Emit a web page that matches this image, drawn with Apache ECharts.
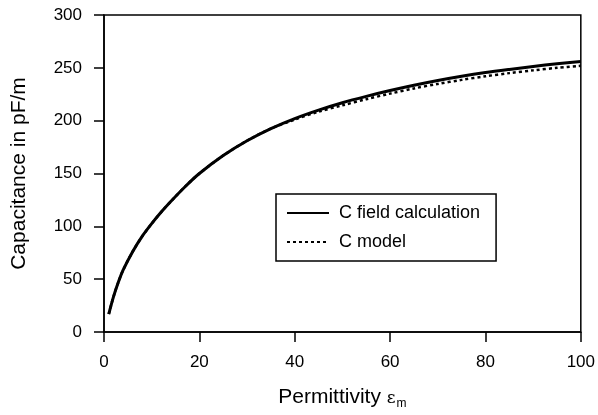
<!DOCTYPE html>
<html>
<head>
<meta charset="utf-8">
<script src="https://cdn.jsdelivr.net/npm/echarts@6/dist/echarts.min.js"></script>
<style>html,body{margin:0;padding:0;background:#fff}#c{width:598px;height:415px}</style>
</head>
<body>
<div id="c"></div>
<script>
var permittivity = [1, 2, 3, 4, 6, 8, 10, 12, 14, 17, 20, 25, 30, 35, 40, 45, 50, 55, 60, 65, 70, 75, 80, 85, 90, 95, 100];
var cField = [17, 33.5, 47, 58.5, 76, 90.5, 102.5, 113.5, 123.5, 137.5, 150, 167, 181, 192.5, 202, 210, 217, 223, 228.5, 233.5, 238, 242, 245.5, 248.5, 251.3, 253.8, 256];
var cModel = [17, 33.5, 47, 58.5, 76, 90.5, 102.5, 113.5, 123.5, 137.5, 150, 167, 181, 192.5, 201, 208.5, 214.5, 220.3, 225.6, 230.5, 234.8, 238.6, 242, 245, 247.6, 250, 252];
var xTicks = [0, 20, 40, 60, 80, 100];
var yTicks = [0, 50, 100, 150, 200, 250, 300];
var seriesNames = ['C field calculation', 'C model'];

function pairs(xs, ys) { return xs.map(function (x, i) { return [x, ys[i]]; }); }

var font = 'Liberation Sans, Arial, sans-serif';
var chart = echarts.init(document.getElementById('c'), null, {renderer: 'canvas'});
chart.setOption({
  animation: false,
  backgroundColor: '#fff',
  textStyle: {fontFamily: font, color: '#000'},
  grid: {left: 104, right: 17, top: 15, bottom: 82, show: true, borderColor: '#000', borderWidth: 1.5, backgroundColor: 'transparent'},
  legend: {
    left: 276, top: 194, orient: 'vertical',
    borderColor: '#000', borderWidth: 1.5, borderRadius: 0,
    padding: [10, 16, 10, 10], itemGap: 11, itemWidth: 42, itemHeight: 14,
    backgroundColor: '#fff',
    itemStyle: {color: 'rgba(0,0,0,0)', borderWidth: 0, opacity: 0},
    textStyle: {fontFamily: font, fontSize: 18, color: '#000', padding: [0, 0, 0, 5]},
    data: seriesNames
  },
  xAxis: {
    type: 'value', min: xTicks[0], max: xTicks[xTicks.length - 1], interval: 20,
    name: '{t|Permittivity }{e|ε}{s|m}', nameLocation: 'middle', nameGap: 52,
    nameTextStyle: {rich: {
      t: {fontFamily: font, fontSize: 21, color: '#000'},
      e: {fontFamily: 'DejaVu Serif, serif', fontSize: 17, color: '#000', padding: [4, 0, 0, 0]},
      s: {fontFamily: font, fontSize: 12, color: '#000', padding: [14, 0, 0, 1]}
    }},
    axisLine: {lineStyle: {color: '#000', width: 1.5}},
    axisTick: {show: true, length: 10, lineStyle: {color: '#000', width: 1.5}},
    axisLabel: {fontFamily: font, fontSize: 17, color: '#000', margin: 22},
    splitLine: {show: false}
  },
  yAxis: {
    type: 'value', min: yTicks[0], max: yTicks[yTicks.length - 1], interval: 50,
    name: 'Capacitance in pF/m', nameLocation: 'middle', nameGap: 74,
    nameTextStyle: {fontFamily: font, fontSize: 21, color: '#000'},
    axisLine: {lineStyle: {color: '#000', width: 1.5}},
    axisTick: {show: true, length: 10, lineStyle: {color: '#000', width: 1.5}},
    axisLabel: {fontFamily: font, fontSize: 17, color: '#000', margin: 22},
    splitLine: {show: false}
  },
  series: [
    {name: seriesNames[0], type: 'line', smooth: 0.3, symbol: 'none', data: pairs(permittivity, cField),
      lineStyle: {color: '#000', width: 3}, itemStyle: {color: '#000'}, z: 3},
    {name: seriesNames[1], type: 'line', smooth: 0.3, symbol: 'none', data: pairs(permittivity, cModel),
      lineStyle: {color: '#000', width: 2.5, type: [3, 3]}, itemStyle: {color: '#000'}, z: 2}
  ]
});
</script>
</body>
</html>
